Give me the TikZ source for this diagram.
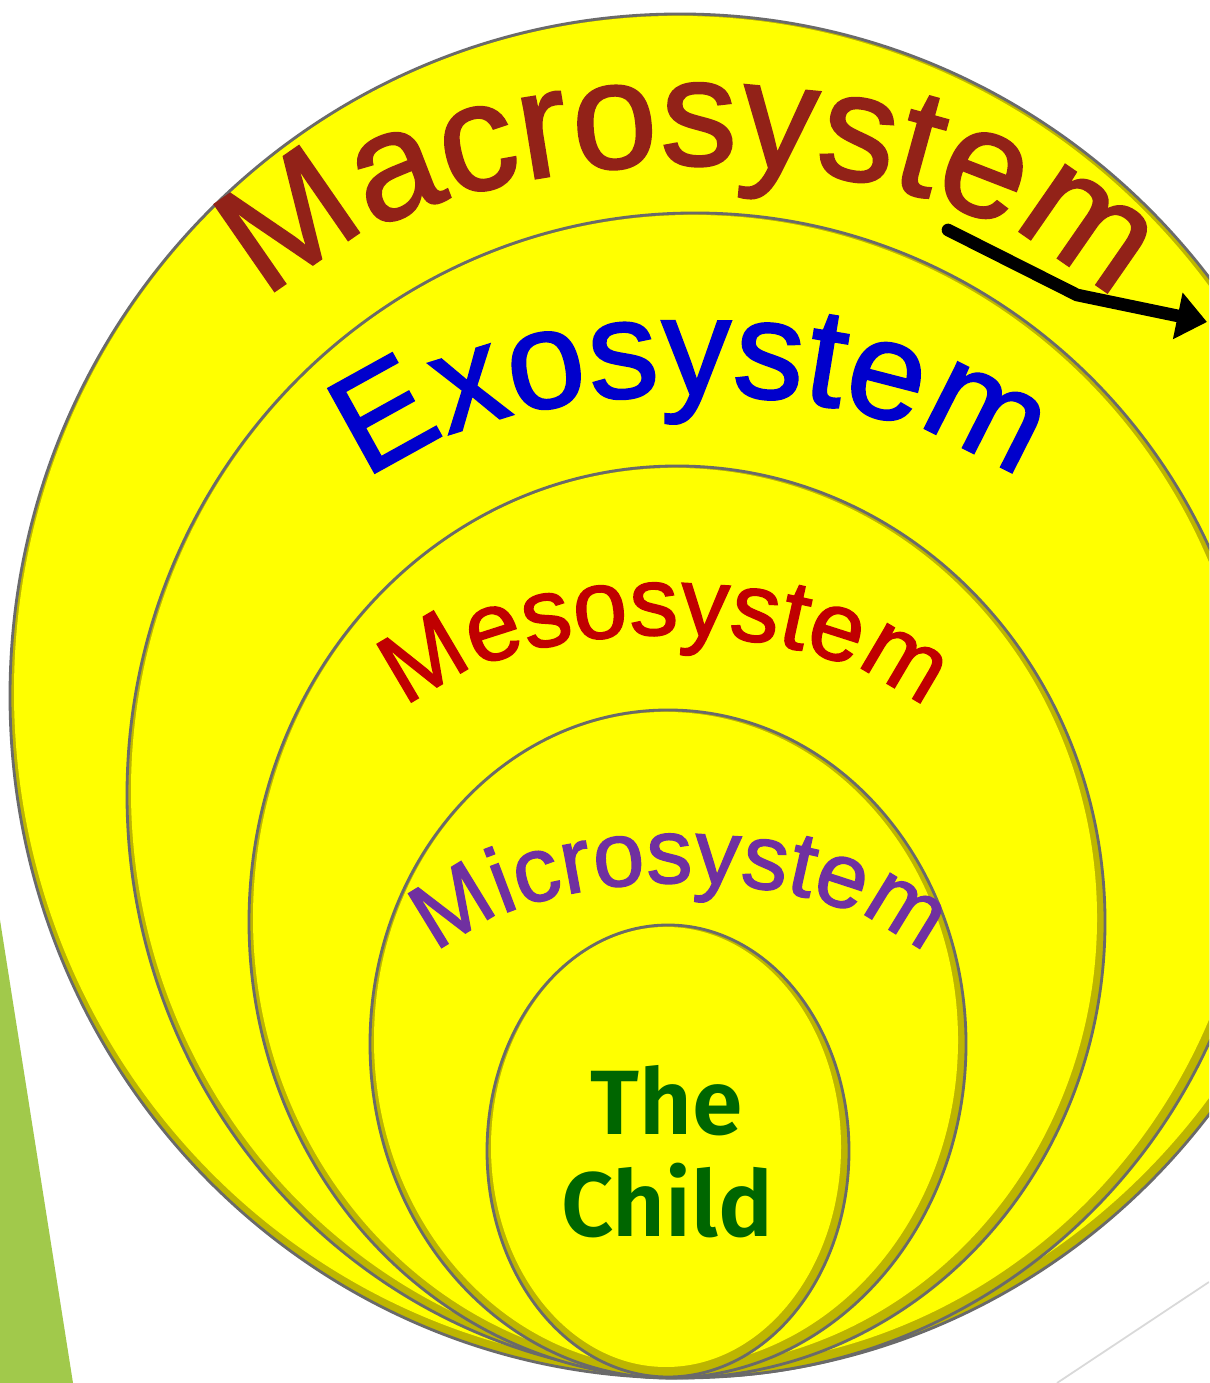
\documentclass[tikz,border=0pt]{standalone}
\usepackage{fontspec}
\usetikzlibrary{arrows.meta,decorations.text}
\newfontfamily\archfont{Liberation Sans}[FakeBold=1.5]
\newfontfamily\childfont{Fira Sans SemiBold}
\definecolor{EcoYellow}{HTML}{FFFF00}
\definecolor{EcoBevel}{HTML}{BDB500}
\definecolor{EcoLine}{HTML}{6A6A6A}
\definecolor{EcoLeaf}{HTML}{A1C94B}
\definecolor{EcoRule}{HTML}{D9D9D9}
\definecolor{EcoMacro}{HTML}{922218}
\definecolor{EcoExo}{HTML}{0000CC}
\definecolor{EcoMeso}{HTML}{C00000}
\definecolor{EcoMicro}{HTML}{7030A0}
\definecolor{EcoChild}{HTML}{006600}

\begin{document}
\begin{tikzpicture}[x=0.01cm,y=0.01cm,
    ringbevel/.style={fill=EcoBevel},
    ringfill/.style={fill=EcoYellow},
    ringline/.style={draw=EcoLine,line width=0.8pt},
    archtext/.style={decorate,decoration={text along path,text align=center,text color=#1}},
    childtext/.style={text=EcoChild,font=\childfont\fontsize{26}{29}\selectfont,anchor=base},
    pointer/.style={-{Triangle[length=8.5pt,width=13pt]},line width=3.6pt,line cap=round,black}]
  \clip (0,0) rectangle (1209,1383);
  \fill[white] (0,0) rectangle (1209,1383);

  % side strip and corner rule
  \fill[EcoLeaf] (0,463) -- (73,0) -- (0,0) -- cycle;
  \draw[EcoRule,line width=0.5pt] (1209,101) -- (1057,0);

  % macrosystem
  \fill[ringbevel] (680,687) ellipse [x radius=670, y radius=682];
  \fill[ringfill] (678,691) ellipse [x radius=664, y radius=676];
  \draw[ringline] (680,687) ellipse [x radius=670, y radius=682];

  % exosystem
  \fill[ringbevel] (695,588) ellipse [x radius=568, y radius=582];
  \fill[ringfill] (693,592) ellipse [x radius=562, y radius=576];
  \draw[ringline] (695,588) ellipse [x radius=568, y radius=582];

  % mesosystem
  \fill[ringbevel] (677,461) ellipse [x radius=428, y radius=456];
  \fill[ringfill] (675,465) ellipse [x radius=422, y radius=450];
  \draw[ringline] (677,461) ellipse [x radius=428, y radius=456];

  % microsystem
  \fill[ringbevel] (668,339) ellipse [x radius=298, y radius=334];
  \fill[ringfill] (666,343) ellipse [x radius=292, y radius=328];
  \draw[ringline] (668,339) ellipse [x radius=298, y radius=334];

  % the child
  \fill[ringbevel] (668,232) ellipse [x radius=181, y radius=226];
  \fill[ringfill] (666,236) ellipse [x radius=175, y radius=220];
  \draw[ringline] (668,232) ellipse [x radius=181, y radius=226];

  % arched labels
  \path[archtext=EcoMacro,decoration={text={|\archfont\fontsize{43.5}{52}\selectfont|Macrosystem}}]
    (225,978) arc [start angle=180, end angle=0, x radius=465, y radius=240];
  \path[archtext=EcoExo,decoration={text={|\archfont\fontsize{39.8}{48}\selectfont|Exosystem}}]
    (327,828) arc [start angle=180, end angle=0, x radius=365, y radius=160];
  \path[archtext=EcoMeso,decoration={text={|\archfont\fontsize{27.8}{34}\selectfont|Mesosystem}}]
    (380,618) arc [start angle=180, end angle=0, x radius=285, y radius=130];
  \path[archtext=EcoMicro,decoration={text={|\archfont\fontsize{26.2}{31}\selectfont|Microsystem}}]
    (416,380) arc [start angle=180, end angle=0, x radius=264, y radius=120];

  \node[childtext] (childtop) at (667,248) {The};
  \node[childtext] (childbottom) at (667,146) {Child};

  \coordinate (arrowtail) at (948,1153);
  \coordinate (arrowbend) at (1077,1088);
  \coordinate (arrowtip) at (1207,1061);
  \draw[pointer] (arrowtail) -- (arrowbend) -- (arrowtip);
\end{tikzpicture}
\end{document}
